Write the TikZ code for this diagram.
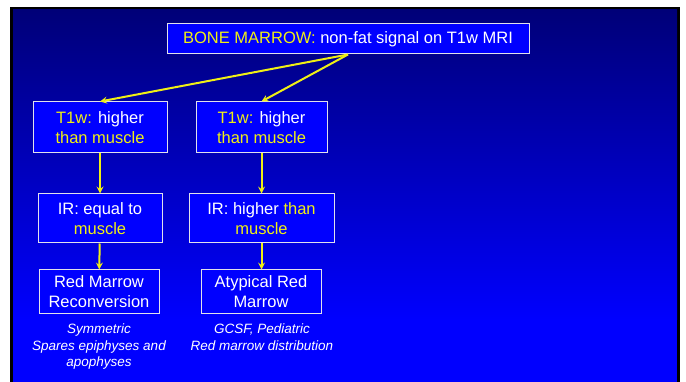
\documentclass[tikz,border=0pt]{standalone}
\usepackage{fontspec}
\setmainfont{Liberation Sans}
\definecolor{slideyel}{RGB}{240,240,20}
\definecolor{slidetop}{RGB}{0,0,120}
\definecolor{slideblue}{RGB}{0,0,255}
\definecolor{boxline}{RGB}{225,225,235}
\tikzset{
  box/.style={draw=boxline, line width=1pt, fill=slideblue, text=white, align=center,
    inner sep=0pt, font=\fontsize{16.5}{20}\selectfont},
  note/.style={text=white, align=center, inner sep=0pt, anchor=north,
    font=\fontsize{13.5}{16.5}\selectfont\itshape},
  link/.style={->, slideyel, line width=2pt}
}
\newcommand{\yel}[1]{\textcolor{slideyel}{#1}}
\begin{document}
\begin{tikzpicture}[>=stealth, x=1pt, y=-1pt]
\useasboundingbox (0,0) rectangle (686,382);
% slide background
\fill[black](10,7) rectangle (680,382);
\fill[top color=slidetop, bottom color=slideblue](13,10) rectangle (677,320);
\fill[slideblue](13,320) rectangle (677,382);

\node[box, minimum width=362, minimum height=30] (top) at (348,39) {\yel{BONE MARROW:} non-fat signal on T1w MRI};

\node[box, minimum width=134, minimum height=51] (t1L) at (100,127.5) {\yel{T1w:} higher\\ \yel{than muscle}};
\node[box, minimum width=131, minimum height=51] (t1R) at (261.5,127.5) {\yel{T1w:} higher\\ \yel{than muscle}};

\node[box, minimum width=124, minimum height=49] (irL) at (100,218.5) {IR: equal to\\ \yel{muscle}};
\node[box, minimum width=145, minimum height=49] (irR) at (261.5,218.5) {IR: higher \yel{than}\\ \yel{muscle}};

\node[box, minimum width=120, minimum height=44] (redL) at (99,292) {Red Marrow\\ Reconversion};
\node[box, minimum width=120, minimum height=44] (redR) at (261,292) {Atypical Red\\ Marrow};

\node[note] (noteL) at (99,324) {Symmetric\\ Spares epiphyses and\\ apophyses};
\node[note] (noteR) at (262,324) {GCSF, Pediatric\\ Red marrow distribution};

\draw[link](top.south)--(t1L.north);
\draw[link](top.south)--(t1R.north);
\draw[link](t1L)--(irL);
\draw[link](t1R)--(irR);
\draw[link](irL)--(redL);
\draw[link](irR.south)--(redR.north-|irR.south);

\end{tikzpicture}
\end{document}
